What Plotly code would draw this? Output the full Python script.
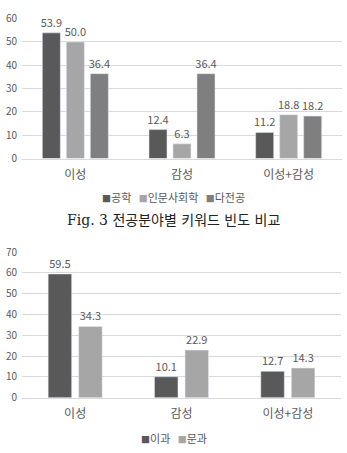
import plotly.graph_objects as go

categories = ["이성", "감성", "이성+감성"]

top_series = ["공학", "인문사회학", "다전공"]
top_values = [
    [53.9, 12.4, 11.2],
    [50.0, 6.3, 18.8],
    [36.4, 36.4, 18.2],
]
top_colors = ["#595959", "#a6a6a6", "#7f7f7f"]

bottom_series = ["이과", "문과"]
bottom_values = [
    [59.5, 10.1, 12.7],
    [34.3, 22.9, 14.3],
]
bottom_colors = ["#595959", "#a6a6a6"]

caption = "Fig. 3 전공분야별 키워드 빈도 비교"

FONT = "Noto Sans CJK KR, Noto Sans, sans-serif"
W, H = 347, 453

# bar geometry (fraction of a category slot)
TOP_BAR_W, TOP_STEP = 0.169, 0.225
BOT_BAR_W, BOT_STEP = 0.221, 0.287

fig = go.Figure()

def add_group(series, values, colors, bar_w, step, xa, ya):
    n = len(series)
    for i, (name, vals, col) in enumerate(zip(series, values, colors)):
        center = (i - (n - 1) / 2) * step
        fig.add_trace(go.Bar(
            x=categories, y=vals, name=name, marker_color=col,
            width=bar_w, offset=center - bar_w / 2,
            text=[f"{v:.1f}" for v in vals], textposition="outside",
            constraintext="none",
            textfont=dict(size=11, color="#595959", family=FONT),
            cliponaxis=False, xaxis=xa, yaxis=ya, showlegend=False,
        ))

add_group(top_series, top_values, top_colors, TOP_BAR_W, TOP_STEP, "x", "y")
add_group(bottom_series, bottom_values, bottom_colors, BOT_BAR_W, BOT_STEP, "x2", "y2")

def ypx(p):
    return 1 - p / H

def legend_text(series, colors):
    parts = [f'<span style="color:{c};font-size:9px">■</span>{s}' for s, c in zip(series, colors)]
    return "   ".join(parts)

ytick_font = dict(size=10, color="#595959", family=FONT)
xtick_font = dict(size=12, color="#595959", family=FONT)

yaxis_common = dict(
    showgrid=True, gridcolor="#d9d9d9", gridwidth=1,
    zeroline=False, showline=False, ticks="", dtick=10,
    tickfont=ytick_font, ticklabelstandoff=4,
)
xaxis_common = dict(
    showgrid=False, showline=True, linecolor="#d9d9d9", ticks="",
    tickfont=xtick_font, ticklabelstandoff=5,
)

fig.update_layout(
    width=W, height=H,
    margin=dict(l=0, r=0, t=0, b=0),
    paper_bgcolor="white", plot_bgcolor="white",
    font=dict(family=FONT, color="#595959"),
    showlegend=False,
    xaxis=dict(domain=[22 / W, 342 / W], anchor="y", **xaxis_common),
    yaxis=dict(domain=[ypx(155), ypx(10)], anchor="x", range=[0, 60], **yaxis_common),
    xaxis2=dict(domain=[22 / W, 341 / W], anchor="y2", **xaxis_common),
    yaxis2=dict(domain=[ypx(403), ypx(252)], anchor="x2", range=[0, 70], **yaxis_common),
    annotations=[
        dict(text=legend_text(top_series, top_colors), x=0.5, xref="paper",
             xanchor="center", y=ypx(195), yref="paper", yanchor="middle",
             showarrow=False, font=dict(size=11, color="#595959", family=FONT)),
        dict(text=legend_text(bottom_series, bottom_colors), x=0.5, xref="paper",
             xanchor="center", y=ypx(445), yref="paper", yanchor="middle",
             showarrow=False, font=dict(size=11, color="#595959", family=FONT)),
        dict(text=caption, x=0.5, xref="paper", xanchor="center",
             y=ypx(219), yref="paper", yanchor="middle", showarrow=False,
             font=dict(size=14, color="#222222",
                       family="DejaVu Serif, Noto Sans CJK KR, serif")),
    ],
)

fig.write_html("out.html")
